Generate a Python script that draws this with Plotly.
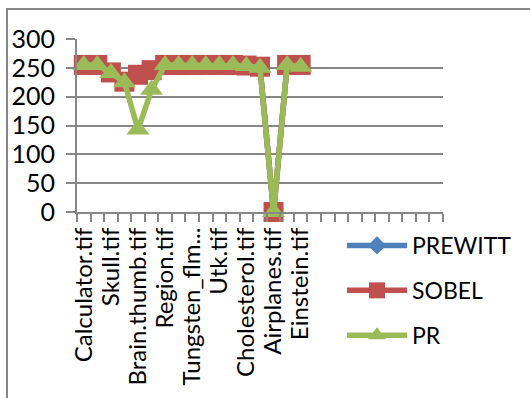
import plotly.graph_objects as go

# Edge-detector output per test image (every 2nd file name is printed on the axis)
labels = ["Calculator.tif", "Skull.tif", "Brain.thumb.tif", "Region.tif",
          "Tungsten_flm...", "Utk.tif", "Cholesterol.tif", "Airplanes.tif",
          "Einstein.tif"]
label_step = 2
n_slots = 27  # category slots on the axis

prewitt = [255, 255, 242, 226, 238, 246, 255, 255, 255, 255, 255, 255, 254, 252, 0, 255, 255]
sobel = [255, 255, 242, 226, 238, 246, 255, 255, 255, 255, 255, 255, 254, 252, 0, 255, 255]
pr = [255, 255, 241, 225, 143, 212, 255, 255, 255, 255, 255, 255, 253, 250, 0, 255, 252]

FONT = "Lato, sans-serif"
GRAY = "#878787"

x = list(range(len(sobel)))

fig = go.Figure()
series = [
    ("PREWITT", prewitt, "#4F81BD", "diamond", 14),
    ("SOBEL", sobel, "#C0504D", "square", 20),
    ("PR", pr, "#9BBB59", "triangle-up", 20),
]
for name, vals, color, sym, size in series:
    fig.add_trace(go.Scatter(
        x=x, y=vals, name=name, mode="lines+markers",
        line=dict(color=color, width=5.5),
        marker=dict(symbol=sym, size=size, color=color),
        cliponaxis=False, legendgroup=name,
    ))

W, H = 530, 398
L, R, T, B = 77, 87, 39, 186
pw, ph = W - L - R, H - T - B

def px_x(p):
    return (p - L) / pw

def px_y(p):
    return (H - B - p) / ph

fig.update_layout(
    width=W, height=H,
    margin=dict(l=L, r=R, t=T, b=B, autoexpand=False),
    paper_bgcolor="white", plot_bgcolor="white",
    font=dict(family=FONT, size=24, color="black"),
    showlegend=True,
    legend=dict(
        xref="container", yref="container",
        x=342 / W, y=1 - 224 / H, xanchor="left", yanchor="top",
        font=dict(size=23), tracegroupgap=12, itemwidth=60,
        bgcolor="rgba(0,0,0,0)",
    ),
    xaxis=dict(
        range=[-0.5, n_slots - 0.5],
        tickmode="array",
        tickvals=[i * label_step for i in range(len(labels))],
        ticktext=labels,
        tickangle=-90,
        ticks="",
        showgrid=False,
        showline=True, linecolor=GRAY, linewidth=2,
        zeroline=False, automargin=False,
        minor=dict(tickmode="linear", tick0=-0.5, dtick=1, ticks="outside",
                   ticklen=8, tickcolor=GRAY, tickwidth=2, showgrid=False),
        ticklabelstandoff=4,
        tickfont=dict(size=24),
    ),
    yaxis=dict(
        range=[0, 300], dtick=50,
        showgrid=True, gridcolor=GRAY, gridwidth=2,
        showline=True, linecolor=GRAY, linewidth=2,
        ticks="outside", ticklen=9, tickcolor=GRAY, tickwidth=2,
        zeroline=False, automargin=False,
        ticklabelstandoff=6,
        tickfont=dict(size=25),
    ),
    shapes=[dict(
        type="rect", xref="paper", yref="paper",
        x0=px_x(7), x1=px_x(W + 20), y0=px_y(H + 20), y1=px_y(9),
        line=dict(color=GRAY, width=2), layer="below",
    )],
)

fig.write_html("out.html")
